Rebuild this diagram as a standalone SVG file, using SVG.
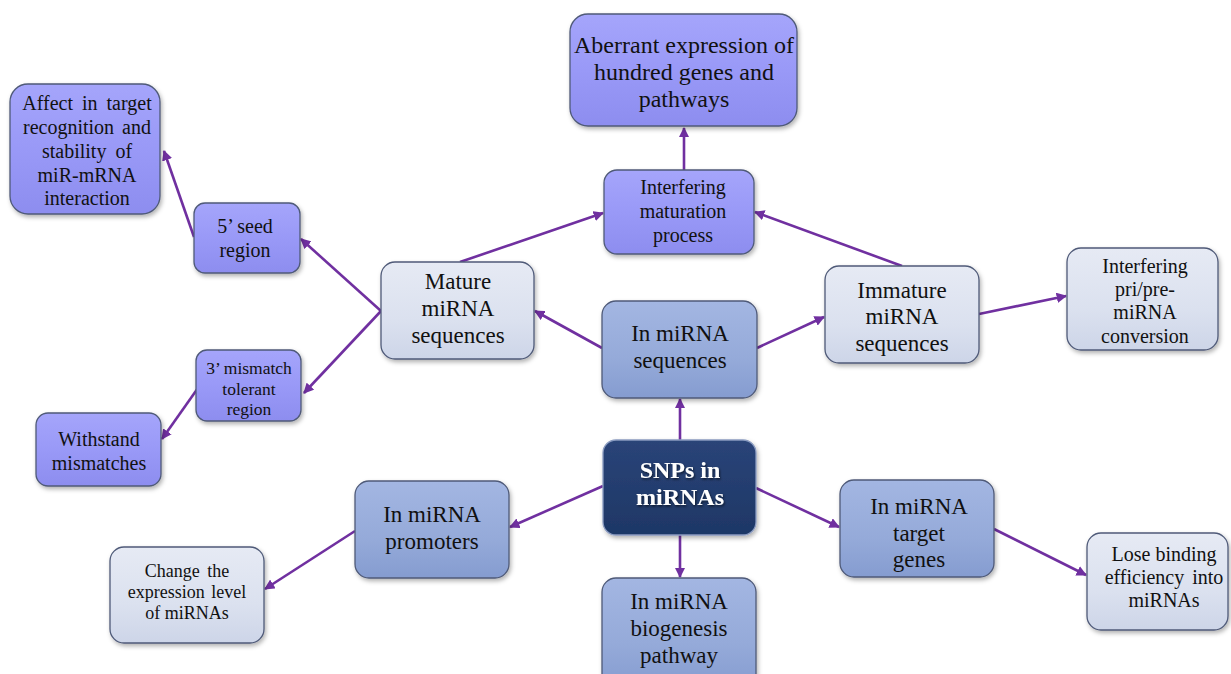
<svg xmlns="http://www.w3.org/2000/svg" width="1231" height="674" viewBox="0 0 1231 674">
<defs>
<linearGradient id="gLav" x1="0" y1="0" x2="0" y2="1"><stop offset="0" stop-color="#a5a5fb"/><stop offset="0.5" stop-color="#9999f7"/><stop offset="1" stop-color="#8d8def"/></linearGradient>
<linearGradient id="gLight" x1="0" y1="0" x2="0" y2="1"><stop offset="0" stop-color="#e6eaf4"/><stop offset="0.6" stop-color="#dbe1ef"/><stop offset="1" stop-color="#cdd5e8"/></linearGradient>
<linearGradient id="gMid" x1="0" y1="0" x2="0" y2="1"><stop offset="0" stop-color="#a3b6e2"/><stop offset="0.6" stop-color="#95aad9"/><stop offset="1" stop-color="#859cd0"/></linearGradient>
<linearGradient id="gDark" x1="0" y1="0" x2="0" y2="1"><stop offset="0" stop-color="#2a4478"/><stop offset="1" stop-color="#1e3766"/></linearGradient>
<filter id="sh" x="-10%" y="-10%" width="125%" height="130%"><feDropShadow dx="1.5" dy="2.5" stdDeviation="2" flood-color="#000" flood-opacity="0.3"/></filter>
<filter id="tsh"><feDropShadow dx="1" dy="1.5" stdDeviation="0.8" flood-color="#000" flood-opacity="0.6"/></filter>
<marker id="ah" viewBox="0 0 10 10" refX="9" refY="5" markerWidth="4" markerHeight="4" orient="auto-start-reverse"><path d="M0,0 L10,5 L0,10 z" fill="#7030a0"/></marker>
<style>
.lav{fill:url(#gLav);stroke:#4f5a78;stroke-width:1.3;filter:url(#sh)}
.lt{fill:url(#gLight);stroke:#4f5a78;stroke-width:1.3;filter:url(#sh)}
.md{fill:url(#gMid);stroke:#4f5a78;stroke-width:1.3;filter:url(#sh)}
.dk{fill:url(#gDark);stroke:#8a9bc0;stroke-width:1.3;filter:url(#sh)}
text{font-family:"Liberation Serif","Times New Roman",serif;fill:#111;text-anchor:middle}
.f23{font-size:23px}.f20{font-size:20px}.f18{font-size:18px}
.w{fill:#fff;font-weight:bold;font-size:24px;filter:url(#tsh)}
.c{stroke:#7030a0;stroke-width:2.6;fill:none;marker-end:url(#ah)}
</style>
</defs>
<rect width="1231" height="674" fill="#fff"/>
<g id="connectors">
<line class="c" x1="684" y1="170" x2="684" y2="128"/>
<line class="c" x1="460" y1="262" x2="603" y2="213"/>
<line class="c" x1="902" y1="266" x2="755" y2="212"/>
<line class="c" x1="602" y1="348" x2="535" y2="311"/>
<line class="c" x1="757" y1="348" x2="824" y2="317"/>
<line class="c" x1="979" y1="314" x2="1066" y2="296"/>
<line class="c" x1="381" y1="311" x2="301" y2="239"/>
<line class="c" x1="381" y1="311" x2="304" y2="393"/>
<line class="c" x1="194" y1="237" x2="164" y2="151"/>
<line class="c" x1="198" y1="388" x2="162" y2="439"/>
<line class="c" x1="680" y1="440" x2="680" y2="399"/>
<line class="c" x1="603" y1="486" x2="510" y2="527"/>
<line class="c" x1="756" y1="488" x2="839" y2="527"/>
<line class="c" x1="680" y1="535" x2="680" y2="577"/>
<line class="c" x1="355" y1="531" x2="265" y2="589"/>
<line class="c" x1="994" y1="529" x2="1086" y2="575"/>
</g>
<g id="aberrant"><rect class="lav" x="570" y="14" width="227" height="112" rx="18"/><text style="font-size:24px"><tspan x="684" y="53">Aberrant expression of</tspan><tspan x="684" y="80">hundred genes and</tspan><tspan x="684" y="107">pathways</tspan></text></g>
<g id="interfering-maturation"><rect class="lav" x="604" y="170" width="150" height="84" rx="13"/><text class="f20"><tspan x="683" y="194">Interfering</tspan><tspan x="683" y="218">maturation</tspan><tspan x="683" y="242">process</tspan></text></g>
<g id="affect"><rect class="lav" x="10" y="84" width="150" height="130" rx="18"/><text class="f20"><tspan x="87" y="110" word-spacing="4">Affect in target</tspan><tspan x="87" y="134" word-spacing="3">recognition and</tspan><tspan x="87" y="158" word-spacing="4">stability of</tspan><tspan x="87" y="182">miR-mRNA</tspan><tspan x="87" y="205">interaction</tspan></text></g>
<g id="seed"><rect class="lav" x="194" y="203" width="106" height="70" rx="11"/><text class="f20"><tspan x="245" y="233">5’ seed</tspan><tspan x="245" y="257">region</tspan></text></g>
<g id="mismatch"><rect class="lav" x="196" y="350" width="105" height="71" rx="11"/><text style="font-size:17.5px"><tspan x="249" y="374">3’ mismatch</tspan><tspan x="249" y="395">tolerant</tspan><tspan x="249" y="415">region</tspan></text></g>
<g id="withstand"><rect class="lav" x="36" y="413" width="125" height="73" rx="12"/><text class="f20"><tspan x="99" y="446">Withstand</tspan><tspan x="99" y="470">mismatches</tspan></text></g>
<g id="mature"><rect class="lt" x="381" y="262" width="153" height="97" rx="14"/><text class="f23"><tspan x="458" y="289">Mature</tspan><tspan x="458" y="316">miRNA</tspan><tspan x="458" y="343">sequences</tspan></text></g>
<g id="in-sequences"><rect class="md" x="602" y="301" width="155" height="97" rx="14"/><text class="f23"><tspan x="680" y="341">In miRNA</tspan><tspan x="680" y="368">sequences</tspan></text></g>
<g id="immature"><rect class="lt" x="825" y="266" width="154" height="97" rx="14"/><text class="f23"><tspan x="902" y="298">Immature</tspan><tspan x="902" y="324">miRNA</tspan><tspan x="902" y="351">sequences</tspan></text></g>
<g id="pri-pre"><rect class="lt" x="1067" y="248" width="151" height="102" rx="14"/><text class="f20"><tspan x="1145" y="273">Interfering</tspan><tspan x="1145" y="296">pri/pre-</tspan><tspan x="1145" y="319">miRNA</tspan><tspan x="1145" y="343">conversion</tspan></text></g>
<g id="snps"><rect class="dk" x="603" y="440" width="153" height="95" rx="13"/><text class="w"><tspan x="680" y="478">SNPs in</tspan><tspan x="680" y="505">miRNAs</tspan></text></g>
<g id="promoters"><rect class="md" x="355" y="481" width="154" height="97" rx="14"/><text class="f23"><tspan x="432" y="522">In miRNA</tspan><tspan x="432" y="549">promoters</tspan></text></g>
<g id="target-genes"><rect class="md" x="840" y="480" width="154" height="97" rx="14"/><text class="f23"><tspan x="919" y="514">In miRNA</tspan><tspan x="919" y="541">target</tspan><tspan x="919" y="567">genes</tspan></text></g>
<g id="biogenesis"><rect class="md" x="602" y="578" width="154" height="110" rx="14"/><text class="f23"><tspan x="679" y="609">In miRNA</tspan><tspan x="679" y="636">biogenesis</tspan><tspan x="679" y="663">pathway</tspan></text></g>
<g id="change-expression"><rect class="lt" x="110" y="547" width="154" height="96" rx="14"/><text class="f18"><tspan x="187" y="577" word-spacing="3">Change the</tspan><tspan x="187" y="598" word-spacing="2">expression level</tspan><tspan x="187" y="619">of miRNAs</tspan></text></g>
<g id="lose-binding"><rect class="lt" x="1087" y="533" width="141" height="97" rx="14"/><text class="f20"><tspan x="1164" y="561">Lose binding</tspan><tspan x="1164" y="584" word-spacing="3">efficiency into</tspan><tspan x="1164" y="607">miRNAs</tspan></text></g>
</svg>
